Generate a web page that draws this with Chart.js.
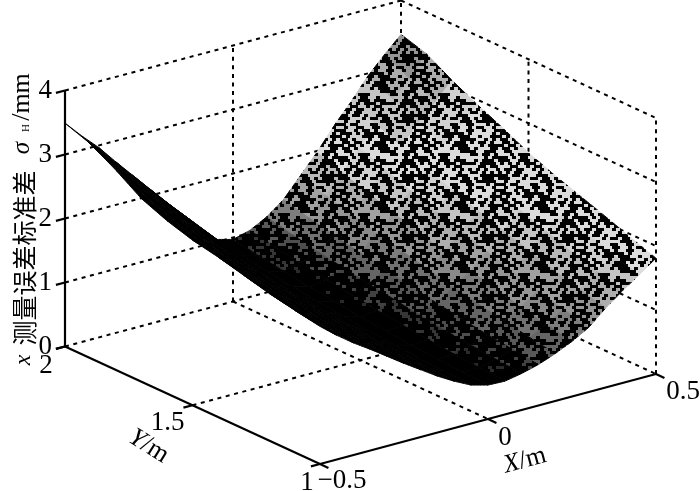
<!DOCTYPE html>
<html><head><meta charset="utf-8">
<style>html,body{margin:0;padding:0;background:#fff}canvas{display:block}</style>
<script src="https://cdn.jsdelivr.net/npm/chart.js@4"></script>
</head><body><canvas id="c" width="700" height="491"></canvas>
<script>
// Grid positions and surface heights (one array per Y row)
const xGrid=[-.5,-.45,-.4,-.35,-.3,-.25,-.2,-.15,-.1,-.05,0,.05,.1,.15,.2,.25,.3,.35,.4,.45,.5];
const yGrid=[2,1.9,1.8,1.7,1.6,1.5,1.4,1.3,1.2,1.1,1];
const zY20=[3.49,3.22,2.97,2.68,2.40,2.12,1.84,1.53,1.23,1.04,.97,1.04,1.18,1.38,1.68,1.98,2.32,2.62,2.95,3.22,3.47];
const zY19=[3.35,3.02,2.78,2.52,2.26,1.99,1.73,1.44,1.16,.97,.90,.96,1.09,1.28,1.56,1.84,2.16,2.45,2.77,3.02,3.35];
const zY18=[3.12,2.83,2.61,2.36,2.12,1.88,1.62,1.35,1.09,.91,.84,.89,1.01,1.19,1.45,1.71,2.01,2.29,2.59,2.84,3.12];
const zY17=[2.86,2.66,2.45,2.22,2.00,1.77,1.53,1.27,1.02,.85,.78,.83,.94,1.10,1.34,1.58,1.86,2.13,2.42,2.66,2.92];
const zY16=[2.70,2.51,2.31,2.10,1.89,1.66,1.44,1.19,.96,.80,.73,.77,.87,1.02,1.24,1.46,1.72,1.98,2.26,2.48,2.74];
const zY15=[2.58,2.37,2.18,1.98,1.78,1.57,1.36,1.13,.91,.75,.68,.71,.81,.94,1.14,1.34,1.59,1.84,2.11,2.32,2.54];
const zY14=[2.50,2.25,2.07,1.88,1.69,1.48,1.28,1.06,.86,.71,.64,.66,.75,.87,1.05,1.23,1.46,1.71,1.96,2.16,2.38];
const zY13=[2.40,2.15,1.97,1.78,1.60,1.41,1.21,1.01,.82,.67,.60,.62,.69,.80,.96,1.13,1.34,1.58,1.82,2.02,2.24];
const zY12=[2.30,2.06,1.88,1.70,1.52,1.34,1.15,.96,.79,.64,.57,.58,.65,.74,.88,1.03,1.22,1.46,1.68,1.88,2.10];
const zY11=[2.22,1.99,1.81,1.64,1.46,1.27,1.10,.92,.76,.62,.55,.55,.61,.69,.81,.94,1.11,1.35,1.56,1.74,1.95];
const zY10=[2.15,1.94,1.75,1.58,1.40,1.22,1.05,.88,.73,.60,.53,.52,.57,.64,.74,.86,1.01,1.24,1.44,1.62,1.81];
const zRows=[zY20,zY19,zY18,zY17,zY16,zY15,zY14,zY13,zY12,zY11,zY10];
const zTicks=[0,1,2,3,4];
const xTicks=[-.5,0,.5];
const yTicks=[1,1.5,2];
const xTickLabels=['\u22120.5','0','0.5'];
const yTickLabels=['1','1.5','2'];

// View projection of the 3-D box onto the chart's two scales
const view={u0:65,uX:336,uY:255,vX:90/64,vY:117.5/64};
const P=(X,Y,Z)=>({x:view.u0+view.uX*(X+.5)+view.uY*(2-Y),y:Z+view.vX*(X+.5)-view.vY*(2-Y)});

// Texture tile for the mesh-cell look
const tile=[
"31415926535897932384","62643383279502884197","16939937510582097494","45923078164062862089",
"98628034825342117067","98214808651328230664","70938446095505822317","25359408128481117450",
"28410270193852110555","96446229489549303819","64428810975665933446","12847564823378678316",
"52712019091456485669","23460348610454326648","21339360726024914127","37245870066063155881",
"74881520920962829254","09171536436789259036","00113305305488204665","21384146951941511609"];
const patterns={};
function patternFor(level){
  if(patterns[level])return patterns[level];
  const s=level/16, cv=document.createElement('canvas');
  cv.width=80;cv.height=60;
  const g=cv.getContext('2d');
  const gray=Math.round(30+190*s), black=1-0.52*Math.min(1,s*2.4);
  g.fillStyle='#000';g.fillRect(0,0,80,60);
  g.fillStyle=`rgb(${gray},${gray},${gray})`;
  tile.forEach((row,r)=>{[...row].forEach((d,c)=>{
    if((+d+.5)/10>=black) g.fillRect(c*4+(r%2)*2,r*3,4,3);
    if((+d+.5)/10>=black && r%2 && c==19) g.fillRect(0,r*3,2,3);
  });});
  return patterns[level]=g.createPattern(cv,'repeat');
}
function shade(X,Y){
  const t=Y-1, x0=.05-.07*t, w=.45-.17*t;
  let s=Math.max(0,Math.min(1,(X-x0)/w));
  s*=1-.5*Math.max(0,(X-.3)/.2)*Math.max(0,(Y-1.7)/.3);
  return Math.round(s*16);
}

const datasets=[];
function seg(a,b,solid,order){
  datasets.push({data:[P(...a),P(...b)],showLine:true,pointRadius:0,borderColor:'#000',
    borderWidth:solid?2.2:2,borderDash:solid?[]:[4,4.6],fill:false,order,clip:false,tension:0,parsing:false});
}
// surface quads, painter order: near cells on top
for(let i=0;i<yGrid.length-1;i++)for(let j=0;j<xGrid.length-1;j++){
  const q=[P(xGrid[j],yGrid[i],zRows[i][j]),P(xGrid[j+1],yGrid[i],zRows[i][j+1]),
           P(xGrid[j+1],yGrid[i+1],zRows[i+1][j+1]),P(xGrid[j],yGrid[i+1],zRows[i+1][j]),
           P(xGrid[j],yGrid[i],zRows[i][j])];
  const pat=patternFor(shade((xGrid[j]+xGrid[j+1])/2,(yGrid[i]+yGrid[i+1])/2));
  datasets.push({data:q,showLine:true,pointRadius:0,fill:'shape',backgroundColor:pat,borderColor:pat,
    borderWidth:1,order:5+j+(yGrid.length-i),clip:false,tension:.0001,parsing:false});
}
// back walls and floor (dashed)
const B=1000;
seg([-.5,2,0],[.5,2,0],false,B);seg([.5,2,0],[.5,1,0],false,B);
seg([0,2,0],[0,1,0],false,B);seg([-.5,1.5,0],[.5,1.5,0],false,B);
zTicks.slice(1).forEach(z=>{seg([-.5,2,z],[.5,2,z],false,B);seg([.5,2,z],[.5,1,z],false,B);});
seg([0,2,0],[0,2,4],false,B);seg([.5,2,0],[.5,2,4],false,B);
seg([.5,1.5,0],[.5,1.5,4],false,B);seg([.5,1,0],[.5,1,4],false,B);
// front axes and tick marks (solid)
seg([-.5,2,0],[-.5,2,4],true,0);seg([-.5,2,0],[-.5,1,0],true,0);seg([-.5,1,0],[.5,1,0],true,0);
zTicks.forEach(z=>seg([-.5,2,z],[-.527,2,z],true,0));
yTicks.forEach(y=>seg([-.5,y,0],[-.527,y,0],true,0));
xTicks.forEach(x=>seg([x,1,0],[x,.967,0],true,0));

const serif='"Liberation Serif","Times New Roman",serif';
const cjk='"Noto Sans CJK SC",sans-serif';
// tick labels placed at their 3-D ticks with a small label offset
const offs={x:[[5,17],[17,19],[27,18]],y:[[-13,19],[-25,18],[-19,19]]};
const textPlugin={id:'texts',afterDraw(ch){
  const c=ch.ctx,sx=ch.scales.x,sy=ch.scales.y;
  const put=(t,x,y,font,rot=0,align='center')=>{c.save();c.translate(x,y);c.rotate(rot);c.font=font;c.fillStyle='#000';
    c.textAlign=align;c.textBaseline='middle';c.fillText(t,0,0);c.restore();};
  const at=(p)=>[sx.getPixelForValue(p.x),sy.getPixelForValue(p.y)];
  xTicks.forEach((v,i)=>{const [a,b]=at(P(v,1,0));put(xTickLabels[i],a+offs.x[i][0]+(i==0?17:0),b+offs.x[i][1],'27px '+serif);});
  yTicks.forEach((v,i)=>{const [a,b]=at(P(-.5,v,0));put(yTickLabels[i],a+offs.y[i][0],b+offs.y[i][1],'27px '+serif);});
  // axis titles
  c.save();c.translate(527,460);c.rotate(-15*Math.PI/180);c.font='italic 26px '+serif;c.textBaseline='middle';c.fillStyle='#000';
  c.textAlign='right';c.fillText('X',-8,0);c.font='26px '+serif;c.textAlign='left';c.fillText('/m',-8,0);c.restore();
  c.save();c.translate(150,447);c.rotate(32*Math.PI/180);c.font='italic 26px '+serif;c.textBaseline='middle';c.fillStyle='#000';
  c.textAlign='right';c.fillText('Y',-8,0);c.font='26px '+serif;c.textAlign='left';c.fillText('/m',-8,0);c.restore();
  const R=-Math.PI/2;
  put('x',24,360,'italic 24px '+serif,R);
  put('\u6d4b\u91cf\u8bef\u5dee\u6807\u51c6\u5dee',24,258,'25px '+cjk,R);
  put('\u03c3',22,148,'italic 25px '+serif,R);
  put('H',26,128,'11px '+serif,R);
  put('/mm',22,97,'26px '+serif,R);
}};

new Chart(document.getElementById('c'),{
  type:'scatter',
  data:{datasets},
  plugins:[textPlugin],
  options:{responsive:false,animation:false,devicePixelRatio:1,layout:{padding:0,autoPadding:false},
    plugins:{legend:{display:false},tooltip:{enabled:false},title:{display:false}},
    events:[],
    scales:{
      x:{type:'linear',min:65,max:700,display:false},
      y:{type:'linear',min:-(491-346.5)/64,max:346.5/64,position:'left',
        afterFit:s=>{s.width=65;s.paddingTop=0;s.paddingBottom=0;},
        afterBuildTicks:s=>{s.ticks=zTicks.map(value=>({value}));},
        border:{display:false},
        grid:{display:false,drawTicks:false},
        ticks:{color:'#000',font:{family:'"Liberation Serif"',size:27},padding:13,autoSkip:false,callback:v=>String(v),maxRotation:0}
      }
    }
  }
});
</script></body></html>
